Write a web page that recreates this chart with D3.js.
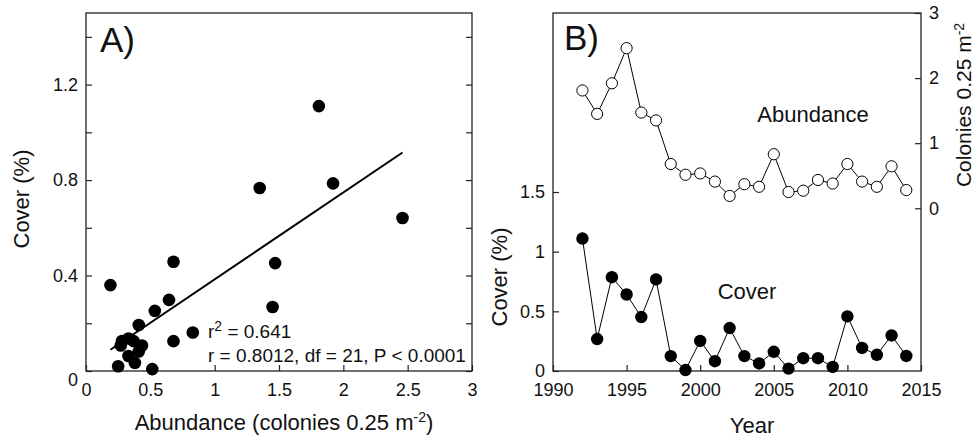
<!DOCTYPE html>
<html>
<head>
<meta charset="utf-8">
<script src="https://cdn.jsdelivr.net/npm/d3@7/dist/d3.min.js"></script>
<style>
body { margin: 0; background: #fff; }
svg { font-family: "Liberation Sans", Arial, Helvetica, sans-serif; }
.axis text { font-size: 18px; fill: #111; }
.axis line { stroke: #222; stroke-width: 1.2; }
</style>
</head>
<body>
<script>
// survey years, one value of cover and abundance per year
var years = [1992, 1993, 1994, 1995, 1996, 1997, 1998, 1999, 2000, 2001, 2002, 2003,
             2004, 2005, 2006, 2007, 2008, 2009, 2010, 2011, 2012, 2013, 2014];
var cover = [1.11, 0.268, 0.786, 0.641, 0.452, 0.767, 0.125, 0.008, 0.252, 0.082, 0.36, 0.125,
             0.063, 0.161, 0.02, 0.107, 0.107, 0.034, 0.458, 0.193, 0.136, 0.298, 0.126];
var abundance = [1.81, 1.45, 1.92, 2.46, 1.47, 1.35, 0.68, 0.515, 0.535, 0.41, 0.19, 0.37,
                 0.33, 0.83, 0.25, 0.27, 0.435, 0.38, 0.68, 0.41, 0.33, 0.645, 0.28];

// regression of cover on abundance (panel A)
var fitIntercept = 0.02;
var fitSlope = 0.364;
var statText = ["= 0.641", "r = 0.8012, df = 21, P < 0.0001"];

// ticks
var coverTicksA = [0, 0.2, 0.4, 0.6, 0.8, 1, 1.2, 1.4];
var coverLabelsA = [0, 0.4, 0.8, 1.2];
var abundTicksA = [0, 0.5, 1, 1.5, 2, 2.5, 3];
var yearTicks = [1990, 1995, 2000, 2005, 2010, 2015];
var coverTicksB = [0, 0.5, 1, 1.5];
var colonyTicksB = [0, 1, 2, 3];

var rows = years.map(function(y, i) {
  return { year: y, cover: cover[i], abundance: abundance[i] };
});

var svg = d3.select("body")
  .append("svg")
  .attr("width", 976)
  .attr("height", 441);

svg.append("rect").attr("width", 976).attr("height", 441).attr("fill", "#fff");

function noDomain(g) { g.select(".domain").remove(); }

function frame(x0, y0, x1, y1) {
  svg.append("rect")
    .attr("x", x0).attr("y", y0)
    .attr("width", x1 - x0).attr("height", y1 - y0)
    .attr("fill", "none")
    .attr("stroke", "#222")
    .attr("stroke-width", 1.3);
}

// ---------- Panel A ----------
var xA = d3.scaleLinear().domain([0, 3]).range([86, 472]);
var yA = d3.scaleLinear().domain([0, 1.5]).range([371, 13]);

svg.append("g").attr("class", "axis")
  .attr("transform", "translate(86,0)")
  .call(d3.axisLeft(yA).tickValues(coverTicksA).tickSize(-6).tickPadding(8)
    .tickFormat(function(d) { return coverLabelsA.indexOf(d) >= 0 ? d : ""; }))
  .call(noDomain)
  .selectAll("text").filter(function(d) { return d === 0; }).attr("y", 9);

svg.append("g").attr("class", "axis")
  .attr("transform", "translate(472,0)")
  .call(d3.axisRight(yA).tickValues(coverTicksA).tickSize(-6).tickFormat(""))
  .call(noDomain);

svg.append("g").attr("class", "axis")
  .attr("transform", "translate(0,371)")
  .call(d3.axisBottom(xA).tickValues(abundTicksA).tickSize(-6).tickPadding(12)
    .tickFormat(function(d) { return String(d); }))
  .call(noDomain);

frame(86, 13, 472, 371);

var ext = d3.extent(abundance);
svg.append("line")
  .attr("x1", xA(ext[0])).attr("y1", yA(fitIntercept + fitSlope * ext[0]))
  .attr("x2", xA(ext[1])).attr("y2", yA(fitIntercept + fitSlope * ext[1]))
  .attr("stroke", "#000")
  .attr("stroke-width", 2);

svg.append("g").selectAll("circle")
  .data(rows)
  .enter()
  .append("circle")
  .attr("cx", function(d) { return xA(d.abundance); })
  .attr("cy", function(d) { return yA(d.cover); })
  .attr("r", 6.3)
  .attr("fill", "#000");

var st1 = svg.append("text").attr("x", 208).attr("y", 338).attr("font-size", 19).attr("fill", "#111");
st1.append("tspan").text("r");
st1.append("tspan").attr("dy", -7).attr("font-size", 14).text("2");
st1.append("tspan").attr("dy", 7).text(" " + statText[0]);
svg.append("text").attr("x", 208).attr("y", 362).attr("font-size", 19).attr("fill", "#111")
  .text(statText[1]);

svg.append("text").attr("x", 100).attr("y", 52).attr("font-size", 35).attr("fill", "#111").text("A)");

var xtA = svg.append("text").attr("x", 284).attr("y", 430).attr("text-anchor", "middle")
  .attr("font-size", 22).attr("fill", "#111");
xtA.append("tspan").text("Abundance (colonies 0.25 m");
xtA.append("tspan").attr("dy", -8).attr("font-size", 14).text("-2");
xtA.append("tspan").attr("dy", 8).text(")");

svg.append("text")
  .attr("transform", "translate(29,199) rotate(-90)")
  .attr("text-anchor", "middle")
  .attr("font-size", 22).attr("fill", "#111")
  .text("Cover (%)");

// ---------- Panel B ----------
var xB = d3.scaleLinear().domain([1990, 2015]).range([553, 921]);
var yB = d3.scaleLinear().domain([0, 3]).range([371, 13]);
var yR = d3.scaleLinear().domain([-2.5, 3]).range([371, 13]);

svg.append("g").attr("class", "axis")
  .attr("transform", "translate(553,0)")
  .call(d3.axisLeft(yB).tickValues(coverTicksB).tickSize(-6).tickPadding(8)
    .tickFormat(function(d) { return String(d); }))
  .call(noDomain);

svg.append("g").attr("class", "axis")
  .attr("transform", "translate(921,0)")
  .call(d3.axisRight(yR).tickValues(colonyTicksB).tickSize(-6).tickPadding(8)
    .tickFormat(function(d) { return String(d); }))
  .call(noDomain);

svg.append("g").attr("class", "axis")
  .attr("transform", "translate(0,371)")
  .call(d3.axisBottom(xB).tickValues(yearTicks).tickSize(-6).tickPadding(12)
    .tickFormat(function(d) { return String(d); }))
  .call(noDomain);

frame(553, 13, 921, 371);

var coverLine = d3.line()
  .x(function(d) { return xB(d.year); })
  .y(function(d) { return yB(d.cover); });
var abundLine = d3.line()
  .x(function(d) { return xB(d.year); })
  .y(function(d) { return yR(d.abundance); });

svg.append("path").datum(rows).attr("d", abundLine)
  .attr("fill", "none").attr("stroke", "#000").attr("stroke-width", 1);
svg.append("path").datum(rows).attr("d", coverLine)
  .attr("fill", "none").attr("stroke", "#000").attr("stroke-width", 1);

svg.append("g").selectAll("circle")
  .data(rows)
  .enter()
  .append("circle")
  .attr("cx", function(d) { return xB(d.year); })
  .attr("cy", function(d) { return yR(d.abundance); })
  .attr("r", 5.6)
  .attr("fill", "#fff")
  .attr("stroke", "#000")
  .attr("stroke-width", 1);

svg.append("g").selectAll("circle")
  .data(rows)
  .enter()
  .append("circle")
  .attr("cx", function(d) { return xB(d.year); })
  .attr("cy", function(d) { return yB(d.cover); })
  .attr("r", 6.2)
  .attr("fill", "#000");

svg.append("text").attr("x", 564).attr("y", 50).attr("font-size", 35).attr("fill", "#111").text("B)");
svg.append("text").attr("x", 813).attr("y", 122).attr("text-anchor", "middle")
  .attr("font-size", 22).attr("fill", "#111").text("Abundance");
svg.append("text").attr("x", 747).attr("y", 299).attr("text-anchor", "middle")
  .attr("font-size", 22).attr("fill", "#111").text("Cover");

svg.append("text").attr("x", 752).attr("y", 433).attr("text-anchor", "middle")
  .attr("font-size", 22).attr("fill", "#111").text("Year");

svg.append("text")
  .attr("transform", "translate(507,277) rotate(-90)")
  .attr("text-anchor", "middle")
  .attr("font-size", 22).attr("fill", "#111")
  .text("Cover (%)");

var rt = svg.append("text")
  .attr("transform", "translate(971,105) rotate(-90)")
  .attr("text-anchor", "middle")
  .attr("font-size", 21).attr("fill", "#111");
rt.append("tspan").text("Colonies 0.25 m");
rt.append("tspan").attr("dy", -7).attr("font-size", 14).text("-2");
</script>
</body>
</html>
